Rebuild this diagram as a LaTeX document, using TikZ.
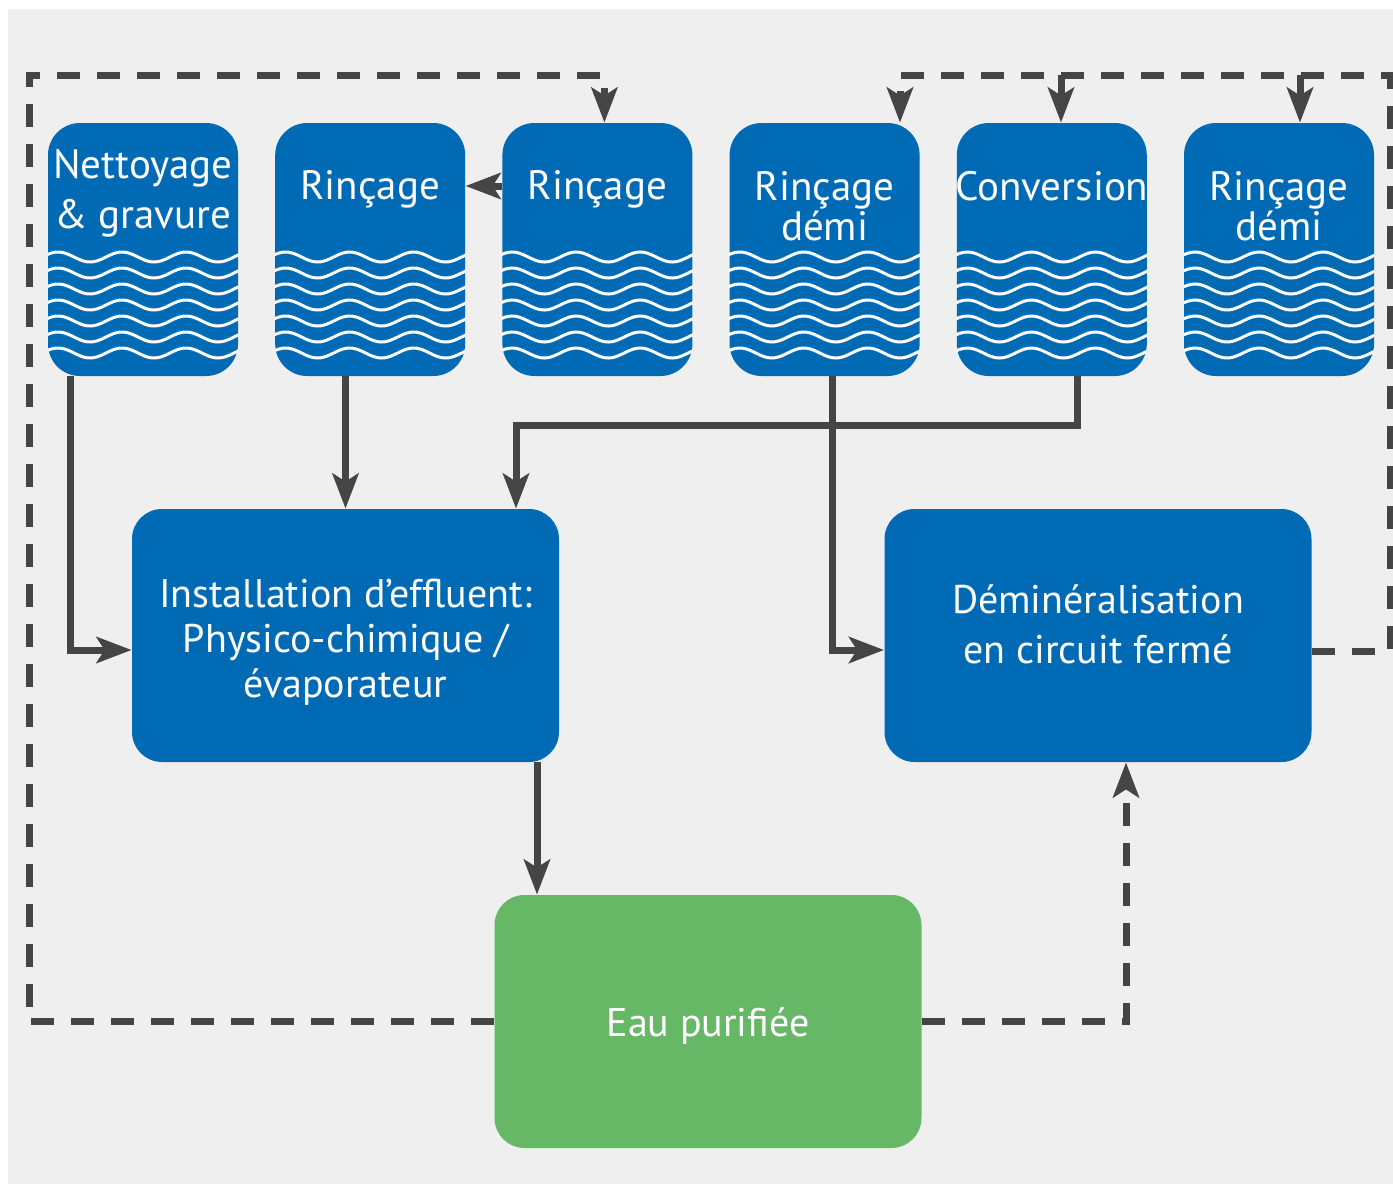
\documentclass[tikz,border=0pt]{standalone}
\usepackage{fontspec}
\setmainfont{PT Sans}
\usetikzlibrary{arrows.meta}

\definecolor{tankblue}{HTML}{006AB5}
\definecolor{cleangreen}{HTML}{66B866}
\definecolor{pipegray}{HTML}{454545}
\definecolor{bggray}{HTML}{EFEFEF}

\begin{document}
\begin{tikzpicture}[x=0.5pt, y=-0.5pt, node distance=113.6pt,
    tank/.style={rectangle, rounded corners=16pt, fill=tankblue, minimum width=95pt, minimum height=126.5pt, inner sep=0pt},
    tanktext/.style={text=white, align=center, inner sep=0pt, font=\fontsize{20.5}{25}\selectfont},
    plant/.style={rectangle, rounded corners=15pt, fill=tankblue, minimum width=213.5pt, minimum height=126.5pt},
    planttext/.style={text=white, align=center, font=\fontsize{20}{22.5}\selectfont},
    cleanwater/.style={plant, fill=cleangreen},
    wave/.style={white, line width=1.5pt},
    flow/.style={draw=pipegray, line width=3.5pt, -{Stealth[length=17.5pt, width=13pt, inset=4pt]}},
    recycle/.style={flow, dash pattern=on 11.5pt off 8.5pt}]

      % Background
      \useasboundingbox (0,0) rectangle (1393,1184);
      \fill[white] (0,0) rectangle (1393,1184);
      \fill[bggray] (8,9) rectangle (1393,1184);

      % Define tanks
      \node[tank] (nett) at (143,249.5) {};
      \node[tank, right of=nett] (rin1) {};
      \node[tank, right of=rin1] (rin2) {};
      \node[tank, right of=rin2] (demi1) {};
      \node[tank, right of=demi1] (conv) {};
      \node[tank, right of=conv] (demi2) {};

      % Water in the tanks
      \foreach \tn/\wx in {nett/48, rin1/275.6, rin2/502.2, demi1/729.8, conv/957.4, demi2/1185}{
        \begin{scope}
          \clip[rounded corners=16pt] (\tn.south west) rectangle (\tn.north east);
          \foreach \wy in {257,273,...,353}
            \draw[wave] plot[domain=-2:192, samples=80] ({\wx+\x}, {\wy+5*sin(5.625*(\x-26))});
        \end{scope}
      }

      % Tank labels
      \node[tanktext] (nettlab) at (143,193) {Nettoyage\\\& gravure};
      \node[tanktext] (rin1lab) at (370.2,189) {Rinçage};
      \node[tanktext] (rin2lab) at (597.4,189) {Rinçage};
      \node[tanktext, font=\fontsize{20.5}{20}\selectfont] (demi1lab) at (824.6,206) {Rinçage\\démi};
      \node[tanktext] (convlab) at (1051.8,186) {Conversion};
      \node[tanktext, font=\fontsize{20.5}{20}\selectfont] (demi2lab) at (1279,206) {Rinçage\\démi};

      % Define treatment
      \node[plant, label={[planttext, yshift=-3.5pt]center:{Installation d’effluent:\\Physico-chimique /\\évaporateur}}] (inst) at (345.5,635.5) {};
      \node[plant, label={[planttext, font=\fontsize{20}{25}\selectfont, yshift=5.5pt]center:{Déminéralisation\\en circuit fermé}}] (dem) at (1098,635.5) {};
      \node[cleanwater, label={[planttext, yshift=-2.5pt]center:{Eau purifiée}}] (eau) at (708,1021.5) {};

      % Define flows
      \coordinate (instout) at ([xshift=95.75pt]inst.south);
      \draw[flow] ([xshift=-36.5pt]nett.south) |- ([yshift=-7.25pt]inst.west);
      \draw[flow] (rin1.south -| inst.north) -- (inst.north);
      \draw[flow] ([yshift=31.75pt]rin2.west) -- ([yshift=31.75pt]rin1.east);
      \draw[flow] ([xshift=13pt]conv.south) -- ++(0,49) -| ([xshift=85.25pt]inst.north);
      \draw[flow] ([xshift=4pt]demi1.south) |- ([yshift=-7.25pt]dem.west);
      \draw[flow] (instout) -- (instout |- eau.north);

      % Recycled water
      \coordinate (loopL) at (29,75);
      \coordinate (loopR) at (1390,75);
      \coordinate (convin) at ([xshift=4.6pt]conv.north);
      \coordinate (demi2in) at ([xshift=10.5pt]demi2.north);
      \draw[recycle] (eau.west) -| (loopL) -| ([xshift=3.5pt]rin2.north);
      \draw[recycle] (eau.east) -| ([xshift=14pt]dem.south);
      \draw[recycle] ([yshift=-7.75pt]dem.east) -| (loopR) -| ([xshift=37.7pt]demi1.north);
      \draw[recycle] (convin |- loopR) -- (convin);
      \draw[recycle] (demi2in |- loopR) -- (demi2in);

    \end{tikzpicture}
\end{document}
